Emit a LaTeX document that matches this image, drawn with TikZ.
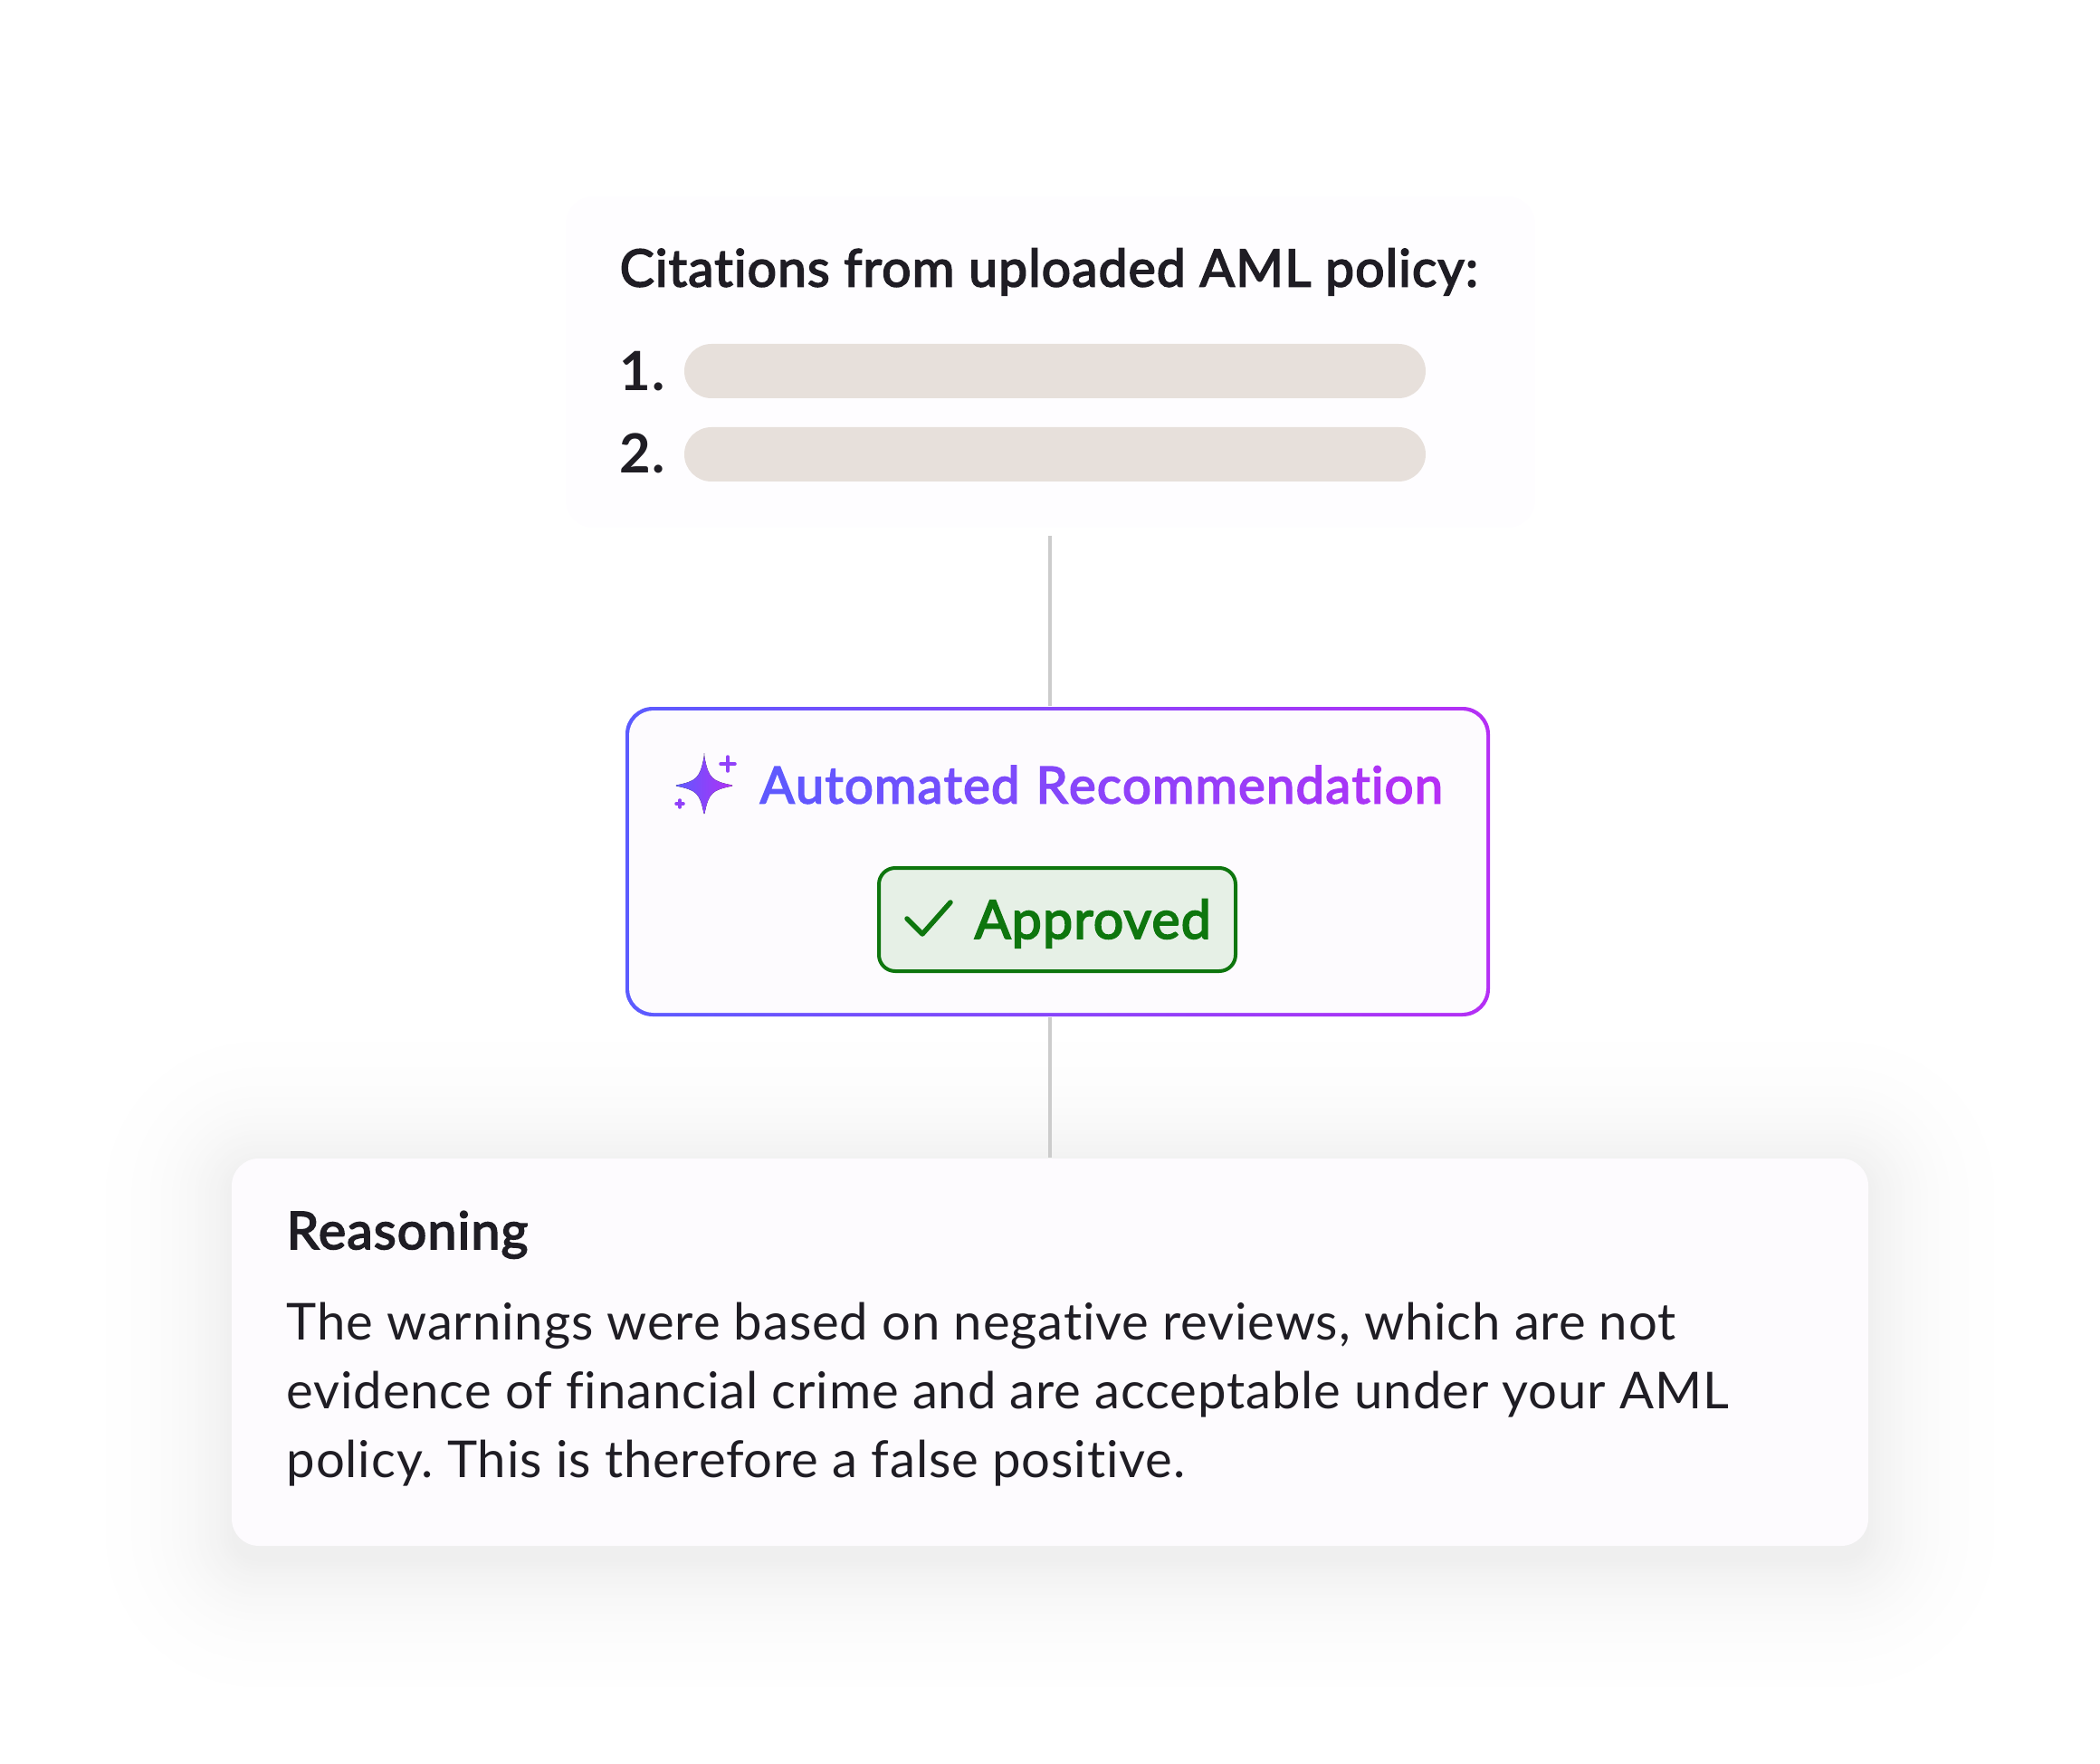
\documentclass[tikz,border=0pt]{standalone}
\usepackage{fontspec}
\setmainfont[Ligatures=NoCommon,LetterSpace=1.5]{Lato}
\newfontfamily\medfont[FakeBold=3,LetterSpace=2,Ligatures=NoCommon]{Lato}
\definecolor{inktext}{HTML}{1F1D24}
\definecolor{cardfill}{HTML}{FDFBFE}
\definecolor{quellfill}{HTML}{FEFDFF}
\definecolor{pillfill}{HTML}{E7E0DB}
\definecolor{linegray}{HTML}{CCCCCC}
\definecolor{recleft}{HTML}{5B5BFF}
\definecolor{recright}{HTML}{B52FF5}
\definecolor{okgreen}{HTML}{0E760E}
\definecolor{okfill}{HTML}{E6F0E6}
\tikzset{
  card/.style={fill=cardfill,rounded corners=.3cm,inner sep=0pt},
  pill/.style={fill=pillfill,rounded corners=.3cm,inner sep=0pt,minimum width=8.19cm,minimum height=.6cm},
  link/.style={linegray,line width=.035cm},
  lab/.style={inner sep=0pt,anchor=base west,text=inktext},
}
\begin{document}
\frenchspacing
\begin{tikzpicture}
\useasboundingbox (0,0) rectangle (23.2,-19.49);
%Schatten
\foreach \s in {0,...,49}{
  \pgfmathsetmacro\t{\s/49}
  \pgfmathsetmacro\g{6.2*\t*\t*\t}
  \pgfmathsetmacro\r{2.0*(1-\t)}
  \fill[black!\g!white,rounded corners=\r cm+.3cm] (2.56-\r,-12.9+\r) rectangle (20.64+\r,-17.25-\r);
}
%Karten
\node[card,fill=quellfill,minimum width=10.71cm,minimum height=3.66cm] (quelle) at (11.605,-4) {};
\node[pill] (pillA) at (11.655,-4.1) {};
\node[pill] (pillB) at (11.655,-5.02) {};
\node[lab,font=\medfont\fontsize{16.2}{19}\selectfont] (titel) at (6.84,-3.165) {Citations from uploaded AML policy:};
\node[lab,font=\bfseries\fontsize{17}{20}\selectfont] (nrA) at (6.84,-4.32) {1.};
\node[lab,font=\bfseries\fontsize{17}{20}\selectfont] (nrB) at (6.84,-5.23) {2.};
%Empfehlung
\coordinate (oben) at (11.6,-5.92);
\node[shape=rectangle,rounded corners=.3cm,left color=recleft,right color=recright,minimum width=9.55cm,minimum height=3.42cm,inner sep=0pt] (empf) at (11.685,-9.52) {};
\node[card,rounded corners=.27cm,minimum width=9.47cm,minimum height=3.34cm] at (empf) {};
\draw[link] (oben) -- (oben|-empf.north);
\fill[left color=recleft,right color=recright,rounded corners=.03cm]
  (7.78,-8.35) .. controls (7.83,-8.60) and (7.87,-8.63) .. (8.11,-8.68)
  .. controls (7.87,-8.73) and (7.83,-8.76) .. (7.78,-9.01)
  .. controls (7.73,-8.76) and (7.69,-8.73) .. (7.45,-8.68)
  .. controls (7.69,-8.63) and (7.73,-8.60) .. (7.78,-8.35) -- cycle;
\draw[recleft!40!recright,line width=.035cm,line cap=round] (7.96,-8.44) -- (8.12,-8.44) (8.04,-8.36) -- (8.04,-8.52);
\draw[recleft!40!recright,line width=.035cm,line cap=round] (7.47,-8.88) -- (7.55,-8.88) (7.51,-8.84) -- (7.51,-8.92);
\node[lab,font=\medfont\fontsize{16}{19}\selectfont] (empftext) at (8.39,-8.875) {%
  \foreach \ch [count=\n] in {A,u,t,o,m,a,t,e,d,\ ,R,e,c,o,m,m,e,n,d,a,t,i,o,n}{%
    \pgfmathsetmacro\p{100-\n*100/24}\textcolor{recleft!\p!recright}{\ch}\kern.35pt}};
\node[draw=okgreen,fill=okfill,line width=.04cm,rounded corners=.18cm,minimum width=3.94cm,minimum height=1.14cm,inner sep=0pt] (ok) at (11.68,-10.16) {};
\draw[okgreen,line width=.055cm,line cap=round,line join=round] (10.02,-10.15) -- (10.19,-10.32) -- (10.50,-9.97);
\node[lab,font=\medfont\fontsize{16.8}{19}\selectfont,text=okgreen] (oktext) at (10.76,-10.37) {Approved};
%Begruendung
\node[card,minimum width=18.08cm,minimum height=4.28cm] (grund) at (11.6,-14.94) {};
\draw[link] (oben|-empf.south) -- (oben|-grund.north);
\node[lab,font=\medfont\fontsize{16.3}{19}\selectfont] (grundtitel) at (3.16,-13.8) {Reasoning};
\node[lab,align=left,font=\fontsize{16}{21.6}\selectfont] (grundtext) at (3.16,-16.32)
  {The warnings were based on negative reviews, which are not\\evidence of financial crime and are acceptable under your AML\\policy. This is therefore a false positive.};
\end{tikzpicture}
\end{document}
